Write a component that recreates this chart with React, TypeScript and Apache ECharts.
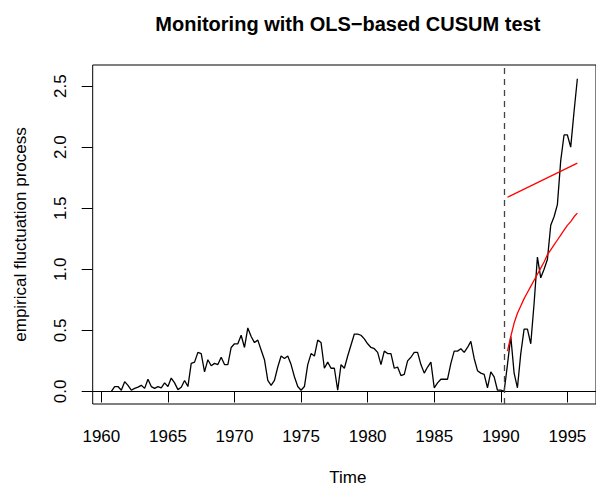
import React, { useEffect, useRef } from "react";
import * as echarts from "echarts";

// Empirical fluctuation process (quarterly, starting 1960 Q4)
const processStart = 1960.75;
const quartersPerYear = 4;
const processValues = [
  0, 0.04, 0.04, 0.01, 0.08, 0.05, 0.01, 0.025, 0.035, 0.05,
  0.025, 0.1, 0.04, 0.025, 0.04, 0.03, 0.07, 0.04, 0.11, 0.07,
  0.015, 0.035, 0.09, 0.04, 0.23, 0.24, 0.32, 0.31, 0.16, 0.26,
  0.21, 0.23, 0.22, 0.28, 0.22, 0.22, 0.36, 0.39, 0.39, 0.46,
  0.36, 0.52, 0.45, 0.4, 0.42, 0.34, 0.26, 0.09, 0.05, 0.09,
  0.2, 0.29, 0.27, 0.29, 0.22, 0.12, 0.04, 0.01, 0.04, 0.22,
  0.31, 0.29, 0.42, 0.4, 0.19, 0.24, 0.19, 0.19, 0.01, 0.22,
  0.19, 0.29, 0.38, 0.47, 0.47, 0.46, 0.43, 0.39, 0.36, 0.35,
  0.32, 0.22, 0.33, 0.31, 0.31, 0.19, 0.2, 0.13, 0.14, 0.25,
  0.28, 0.32, 0.32, 0.22, 0.15, 0.2, 0.24, 0.03, 0.07, 0.1,
  0.1, 0.1, 0.23, 0.33, 0.33, 0.35, 0.32, 0.36, 0.41, 0.27,
  0.17, 0.15, 0.14, 0.03, 0.16, 0.12, 0.01, 0.01, 0.0, 0.22,
  0.45, 0.15, 0.03, 0.31, 0.51, 0.51, 0.39, 0.72, 1.1, 0.93,
  1.0, 1.08, 1.36, 1.43, 1.53, 1.89, 2.1, 2.1, 2.0, 2.29,
  2.56,
];

// Boundaries (monitoring period)
const boundaryStart = 1990.5;
const upperBoundaryTimes = [1990.5, 1995.75];
const upperBoundaryValues = [1.59, 1.87];
const lowerBoundaryValues = [
  0.33, 0.45, 0.56, 0.64, 0.7, 0.76, 0.81, 0.86, 0.91, 0.96,
  1.01, 1.06, 1.12, 1.16, 1.2, 1.24, 1.28, 1.32, 1.36, 1.39,
  1.43, 1.46,
];

const monitoringStart = 1990.25;
const xTicks = [1960, 1965, 1970, 1975, 1980, 1985, 1990, 1995];
const yTicks = [0, 0.5, 1, 1.5, 2, 2.5];

const titleText = "Monitoring with OLS\u2212based CUSUM test";
const xLabel = "Time";
const yLabel = "empirical fluctuation process";

const FONT = "'Liberation Sans', Arial, Helvetica, sans-serif";

export default function App() {
  const ref = useRef<HTMLDivElement>(null);

  useEffect(() => {
    if (!ref.current) return;
    const chart = echarts.init(ref.current, null, { renderer: "svg" });

    const gridLeft = 92.7;
    const gridTop = 65;
    const gridWidth = 510.2;
    const gridHeight = 339;

    const processData = processValues.map((v, i) => [processStart + i / quartersPerYear, v]);
    const upperData = upperBoundaryTimes.map((t, i) => [t, upperBoundaryValues[i]]);
    const lowerData = lowerBoundaryValues.map((v, i) => [boundaryStart + i / quartersPerYear, v]);

    chart.setOption({
      animation: false,
      backgroundColor: "#ffffff",
      grid: {
        left: gridLeft,
        top: gridTop,
        width: gridWidth,
        height: gridHeight,
        show: true,
        borderColor: "#000",
        borderWidth: 1,
        backgroundColor: "transparent",
      },
      xAxis: {
        type: "value",
        min: 1959.35,
        max: 1997.15,
        splitLine: { show: false },
        axisLine: { show: false },
        axisTick: {
          show: true,
          inside: false,
          length: 11,
          customValues: xTicks,
          lineStyle: { color: "#000", width: 1 },
        },
        axisLabel: {
          show: true,
          customValues: xTicks,
          margin: 24,
          fontSize: 17,
          fontFamily: FONT,
          color: "#000",
          formatter: (v: number) => String(v),
        },
      },
      yAxis: {
        type: "value",
        min: -0.1028,
        max: 2.6728,
        splitLine: { show: false },
        axisLine: { show: false },
        axisTick: {
          show: true,
          inside: false,
          length: 11,
          customValues: yTicks,
          lineStyle: { color: "#000", width: 1 },
        },
        axisLabel: {
          show: true,
          customValues: yTicks,
          rotate: 90,
          margin: 24,
          fontSize: 17,
          fontFamily: FONT,
          color: "#000",
          formatter: (v: number) => v.toFixed(1),
        },
      },
      graphic: [
        {
          type: "text",
          x: gridLeft + gridWidth / 2,
          y: 24,
          style: {
            text: titleText,
            fontSize: 20,
            fontWeight: "bold",
            fontFamily: FONT,
            fill: "#000",
            align: "center",
            verticalAlign: "middle",
          },
        },
        {
          type: "text",
          x: gridLeft + gridWidth / 2,
          y: 477,
          style: {
            text: xLabel,
            fontSize: 17,
            fontFamily: FONT,
            fill: "#000",
            align: "center",
            verticalAlign: "middle",
          },
        },
        {
          type: "text",
          x: 20,
          y: gridTop + gridHeight / 2,
          rotation: Math.PI / 2,
          style: {
            text: yLabel,
            fontSize: 17,
            fontFamily: FONT,
            fill: "#000",
            align: "center",
            verticalAlign: "middle",
          },
        },
      ],
      series: [
        {
          type: "line",
          data: processData,
          symbol: "none",
          lineStyle: { color: "#000", width: 1.3 },
          markLine: {
            silent: true,
            symbol: ["none", "none"],
            label: { show: false },
            data: [
              { yAxis: 0, lineStyle: { color: "#000", width: 1, type: "solid" } },
              { xAxis: monitoringStart, lineStyle: { color: "#444", width: 1.3, type: [6, 5] } },
            ],
          },
        },
        {
          type: "line",
          data: upperData,
          symbol: "none",
          lineStyle: { color: "#ff0000", width: 1.3 },
        },
        {
          type: "line",
          data: lowerData,
          symbol: "none",
          lineStyle: { color: "#ff0000", width: 1.3 },
        },
      ],
    });

    return () => {
      chart.dispose();
    };
  }, []);

  return (
    <div
      ref={ref}
      style={{ position: "fixed", left: 0, top: 0, width: 596, height: 487, background: "#fff" }}
    />
  );
}
